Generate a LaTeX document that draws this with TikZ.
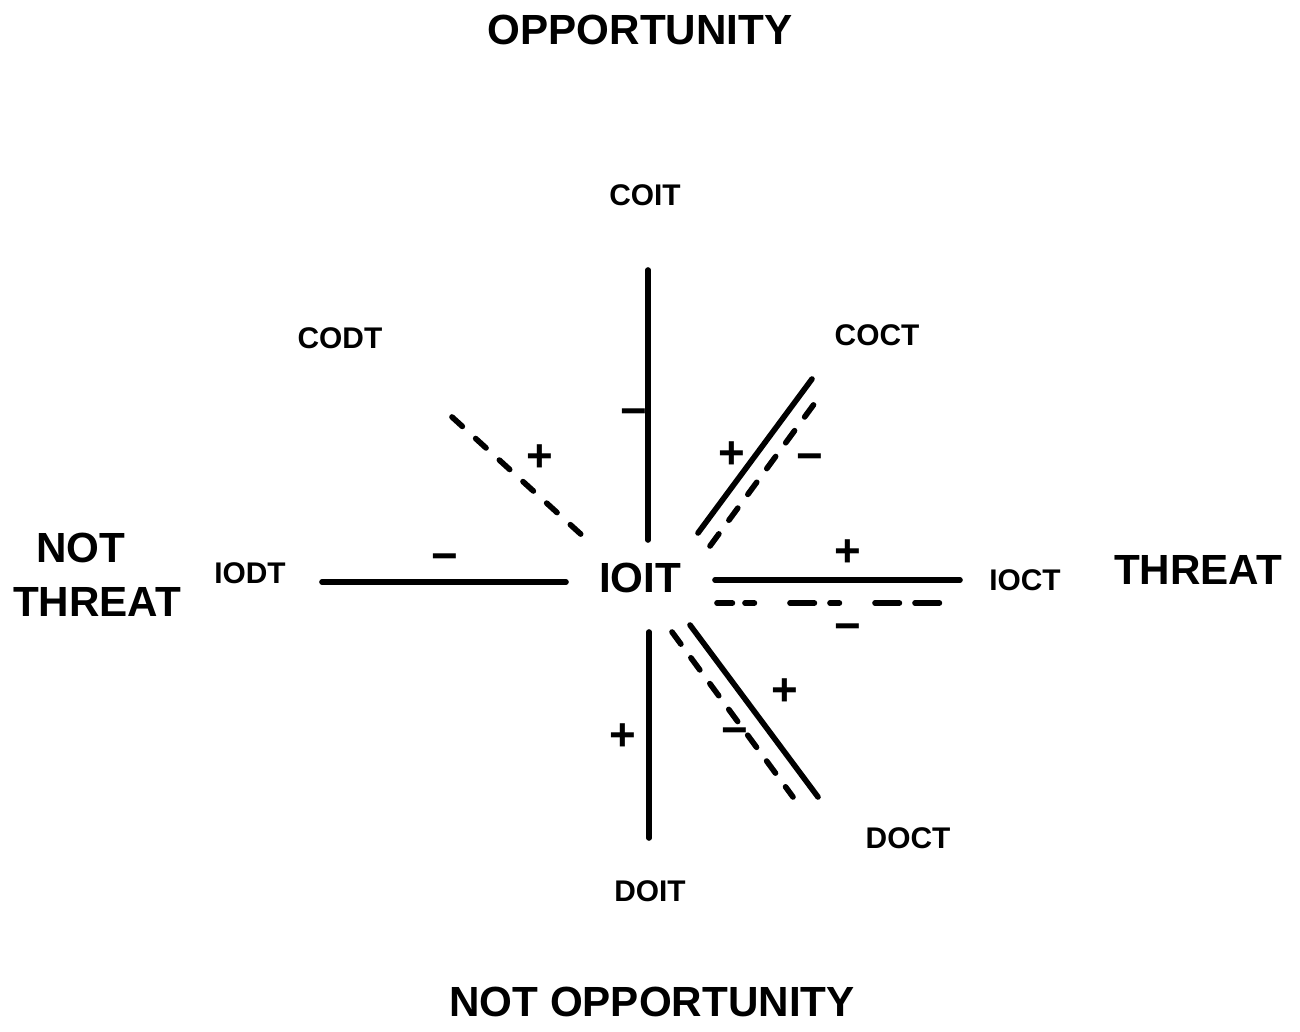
\documentclass[tikz,border=0pt]{standalone}
\usepackage{fontspec}
\setmainfont{Liberation Sans}
\usepackage{tikz}
\usetikzlibrary{calc}
\usepackage{tkz-euclide}

\begin{document}
\begin{tikzpicture}[scale=1,
    ln/.style={black, line width=1.6pt, line cap=round},
    dsh/.style={ln, dash pattern=on 0.15cm off 0.17cm},
    small/.style={font=\fontsize{8.5}{10}\selectfont\bfseries},
    big/.style={font=\fontsize{12}{14}\selectfont\bfseries},
    sgn/.style={font=\fontsize{13}{14}\selectfont\bfseries, inner sep=0pt}]
                \useasboundingbox (-6.48,-4.51) rectangle (6.52,5.80);
                \tkzDefPoints{0/3.10/Ta, 0/0.40/Tb, 0.01/-0.52/Ba, 0.01/-2.58/Bb}
                \tkzDefPoints{-3.26/-0.02/La, -0.82/-0.02/Lb, 0.67/0/Ra, 3.12/0/Rb, 0.69/-0.23/Rc, 2.97/-0.23/Rd}
                \tkzDefPoints{-1.96/1.63/Ua, -0.63/0.42/Ub, 0.50/0.47/Va, 1.64/2.01/Vb, 0.62/0.34/Vc, 1.72/1.84/Vd}
                \tkzDefPoints{0.42/-0.45/Wa, 1.70/-2.17/Wb, 0.24/-0.52/Wc, 1.45/-2.17/Wd}
                \tkzDrawSegments[ln](Ta,Tb Ba,Bb La,Lb Ra,Rb Va,Vb Wa,Wb)
                \tkzDrawSegments[ln, dash pattern=on 0.154cm off 0.126cm on 0.094cm off 0.356cm on 0.244cm off 0.156cm on 0.094cm off 0.356cm on 0.244cm off 0.156cm on 0.244cm off 0.5cm](Rc,Rd)
                \tkzDrawSegments[ln, dash pattern=on 0.14cm off 0.18cm](Ua,Ub)
                \tkzDrawSegments[dsh](Vc,Vd Wc,Wd)
                \node[big] (opp) at (-0.08,5.50) {OPPORTUNITY};
                \node[big] (nopp) at (0.04,-4.22) {NOT OPPORTUNITY};
                \node[big] (thr) at (5.50,0.10) {THREAT};
                \node[big] (nt1) at (-5.67,0.32) {NOT};
                \node[big] (nt2) at (-5.51,-0.22) {THREAT};
                \node[big] (ioit) at (-0.08,0.02) {IOIT};
                \node[small] (coit) at (-0.03,3.85) {COIT};
                \node[small] (codt) at (-3.08,2.42) {CODT};
                \node[small] (coct) at (2.29,2.45) {COCT};
                \node[small] (iodt) at (-3.98,0.07) {IODT};
                \node[small] (ioct) at (3.77,0) {IOCT};
                \node[small] (doct) at (2.60,-2.58) {DOCT};
                \node[small] (doit) at (0.02,-3.11) {DOIT};
                \node[sgn] (s1) at (-0.14,1.62) {−};
                \node[sgn] (s2) at (-1.08,1.22) {+};
                \node[sgn] (s3) at (0.84,1.25) {+};
                \node[sgn] (s4) at (1.62,1.17) {−};
                \node[sgn] (s5) at (-2.03,0.17) {−};
                \node[sgn] (s6) at (2.00,0.27) {+};
                \node[sgn] (s7) at (2.00,-0.53) {−};
                \node[sgn] (s8) at (-0.25,-1.57) {+};
                \node[sgn] (s9) at (1.37,-1.12) {+};
                \node[sgn] (s10) at (0.87,-1.57) {−};
            \end{tikzpicture}
\end{document}
